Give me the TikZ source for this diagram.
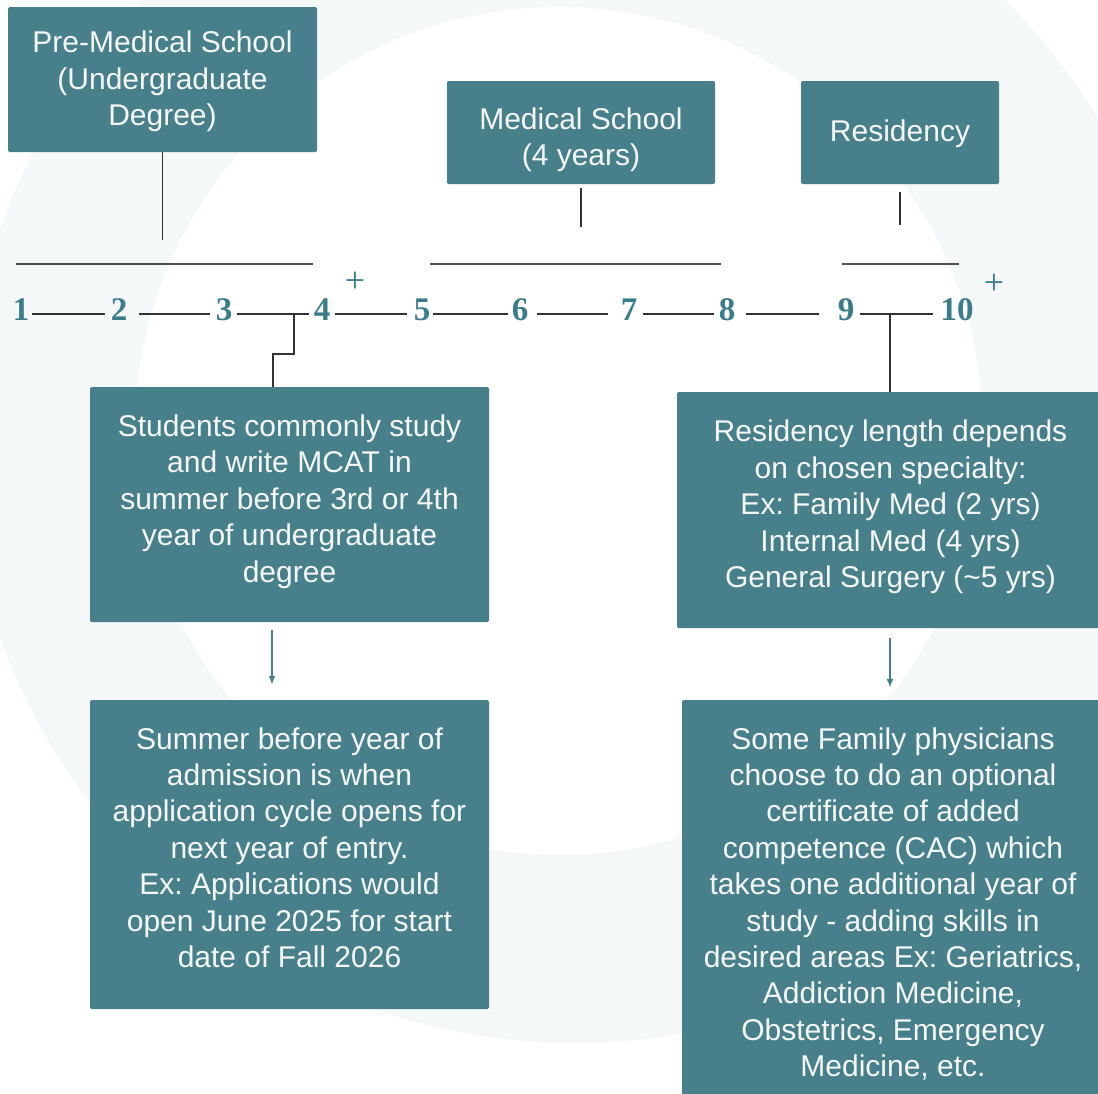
\documentclass[tikz,border=0pt]{standalone}
\usepackage{fontspec}
\setmainfont{Liberation Sans}
\newfontfamily\numfont{Liberation Serif}
\frenchspacing
\usetikzlibrary{arrows.meta}
\definecolor{teal1}{RGB}{71,128,138}
\definecolor{numteal}{RGB}{58,124,138}
\definecolor{ringc}{RGB}{245,248,249}
\definecolor{linec}{RGB}{50,50,50}
\definecolor{boxtext}{RGB}{245,247,247}
\begin{document}
\begin{tikzpicture}[x=1pt,y=-1pt,
 box/.style={fill=teal1, inner sep=0pt, rounded corners=1.5pt},
 boxtxt/.style={text=boxtext, inner sep=0pt, align=center, font=\frenchspacing\fontsize{30}{36.4}\selectfont},
 num/.style={text=numteal, font=\numfont\bfseries\fontsize{33}{33}\selectfont, inner sep=0pt},
 plus/.style={text=numteal, font=\numfont\fontsize{36}{36}\selectfont, inner sep=0pt},
 conn/.style={draw=linec, line width=1.8pt},
 bar/.style={draw=linec!85, line width=2.2pt},
 dashline/.style={draw=linec, line width=1.5pt},
 arr/.style={draw=teal1, line width=1.6pt, -{Latex[length=9pt,width=7pt]}}]
% background
\fill[white] (0,0) rectangle (1098,1093);
\begin{scope}
\clip (0,0) rectangle (1098,1093);
\fill[ringc, even odd rule] (575,433) circle[radius=610pt] (559,431) circle[radius=424pt];
\end{scope}
\useasboundingbox (0,0) rectangle (1098,1093);

% header boxes
\node[box, minimum width=309pt, minimum height=145pt] (premed) at (162.5,79.5) {};
\node[boxtxt] (premedt) at ([yshift=-2pt]premed.center) {Pre-Medical School\\(Undergraduate\\Degree)};
\node[box, minimum width=268pt, minimum height=103pt] (med) at (581,132.5) {};
\node[boxtxt] (medt) at ([yshift=-7pt]med.center) {Medical School\\(4 years)};
\node[box, minimum width=198pt, minimum height=103pt] (res) at (900,132.5) {};
\node[boxtxt] (rest) at ([yshift=-1pt]res.center) {Residency};

% info boxes
\node[box, minimum width=399pt, minimum height=235pt] (s1) at (289.5,504.5) {};
\node[boxtxt] (s1t) at ([yshift=3pt]s1.center) {Students commonly study\\and write MCAT in\\summer before 3rd or 4th\\year of undergraduate\\degree};
\node[box, minimum width=427pt, minimum height=236pt] (s2) at (890.5,510) {};
\node[boxtxt] (s2t) at ([yshift=3pt]s2.center) {Residency length depends\\on chosen specialty:\\Ex: Family Med (2 yrs)\\Internal Med (4 yrs)\\General Surgery (\textasciitilde5 yrs)};
\node[box, minimum width=399pt, minimum height=309pt] (s3) at (289.5,854.5) {};
\node[boxtxt] (s3t) at ([yshift=7pt]s3.center) {Summer before year of\\admission is when\\application cycle opens for\\next year of entry.\\Ex: Applications would\\open June 2025 for start\\date of Fall 2026};
\node[box, minimum width=422pt, minimum height=402pt] (s4) at (893,901) {};
\node[boxtxt] (s4t) at ([yshift=-3pt]s4.center) {Some Family physicians\\choose to do an optional\\certificate of added\\competence (CAC) which\\takes one additional year of\\study - adding skills in\\desired areas Ex: Geriatrics,\\Addiction Medicine,\\Obstetrics, Emergency\\Medicine, etc.};

% timeline numbers
\node[num] (n1) at (21,310) {1};
\node[num] (n2) at (119,310) {2};
\node[num] (n3) at (224,310) {3};
\node[num] (n4) at (322,310) {4};
\node[num] (n5) at (422,310) {5};
\node[num] (n6) at (520,310) {6};
\node[num] (n7) at (629,310) {7};
\node[num] (n8) at (727,310) {8};
\node[num] (n9) at (846,310) {9};
\node[num] (n10) at (957,310) {10};
\node[plus] (p4) at (355,282) {+};
\node[plus] (p10) at (994,284) {+};

% dashes of the timeline
\foreach \a/\b in {32/105, 139/210, 237/309, 335/407, 433/508, 537/608, 643/714, 746/819, 860/933}
  \draw[dashline] (\a,314) -- (\b,314);

% bars above the timeline
\coordinate (b1s) at (16,264); \coordinate (b1e) at (313,264);
\coordinate (b2s) at (430,264); \coordinate (b2e) at (721,264);
\coordinate (b3s) at (842,264); \coordinate (b3e) at (959,264);
\draw[bar] (b1s) -- (b1e);
\draw[bar] (b2s) -- (b2e);
\draw[bar] (b3s) -- (b3e);

% connectors from header boxes
\coordinate (pe) at (162.5,240);
\draw[conn] (premed.south) -- (pe);
\coordinate (m1) at (581,188); \coordinate (m2) at (581,227);
\draw[conn] (m1) -- (m2);
\coordinate (r1) at (900,192); \coordinate (r2) at (900,225);
\draw[conn] (r1) -- (r2);

% connectors from timeline to info boxes
\coordinate (c1) at (294,314); \coordinate (c1b) at (273,354);
\draw[conn] (c1) |- (c1b) -- (c1b |- s1.north);
\coordinate (c2) at (890,314);
\draw[conn] (c2) -- (c2 |- s2.north);

% arrows
\coordinate (a1x) at (272,0); \coordinate (a2x) at (890,0);
\draw[arr, shorten <=8pt, shorten >=15pt] (a1x |- s1.south) -- (a1x |- s3.north);
\draw[arr, shorten <=10pt, shorten >=12pt] (a2x |- s2.south) -- (a2x |- s4.north);
\end{tikzpicture}
\end{document}
